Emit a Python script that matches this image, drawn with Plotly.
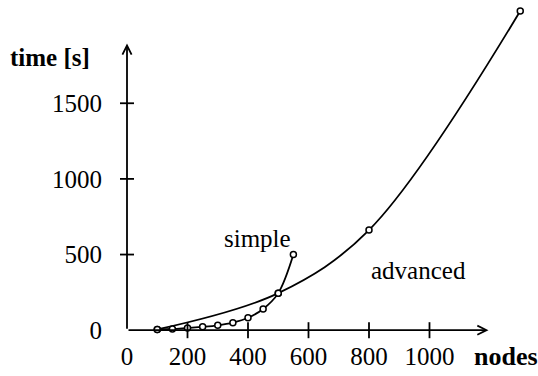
import plotly.graph_objects as go

# ---- data ----
simple_nodes = [100, 150, 200, 250, 300, 350, 400, 450, 500, 550]
simple_time = [5, 8, 15, 22, 32, 50, 82, 140, 245, 500]
advanced_nodes = [100, 500, 800, 1300]
advanced_time = [5, 245, 662, 2110]

x_tickvals = [0, 200, 400, 600, 800, 1000]
x_ticktext = ["0", "200", "400", "600", "800", "1000"]
x_tickmarks = [200, 400, 600, 800, 1000]
y_tickvals = [0, 500, 1000, 1500]
y_ticktext = ["0", "500", "1000", "1500"]
y_tickmarks = [500, 1000, 1500]

x_axis_end = 1195
y_axis_end = 1895

# ---- layout geometry ----
W, H = 538, 376
X0PX, KX = 127.0, 0.3025     # pixel of x=0, px per unit
Y0PX, KY = 330.2, 0.1513     # pixel of y=0, px per unit
xr = [-X0PX / KX, (W - X0PX) / KX]
yr = [-(H - Y0PX) / KY, Y0PX / KY]

FONT = "Liberation Serif, Times New Roman, serif"
LW = 1.8

fig = go.Figure()
fig.add_trace(go.Scatter(
    x=advanced_nodes, y=advanced_time, mode="lines+markers",
    line=dict(color="black", width=LW, shape="spline", smoothing=1.0),
    marker=dict(symbol="circle", size=6, color="white", line=dict(color="black", width=1.5)),
    showlegend=False, cliponaxis=False))
fig.add_trace(go.Scatter(
    x=simple_nodes, y=simple_time, mode="lines+markers",
    line=dict(color="black", width=LW, shape="spline", smoothing=1.0),
    marker=dict(symbol="circle", size=6, color="white", line=dict(color="black", width=1.5)),
    showlegend=False, cliponaxis=False))

shapes = []
for v in x_tickmarks:
    shapes.append(dict(type="line", xref="x", yref="y", ysizemode="pixel", yanchor=0,
                       x0=v, x1=v, y0=-8, y1=8, line=dict(color="black", width=LW)))
for v in y_tickmarks:
    shapes.append(dict(type="line", xref="x", yref="y", xsizemode="pixel", xanchor=0,
                       x0=-7, x1=7, y0=v, y1=v, line=dict(color="black", width=LW)))

annotations = [
    dict(x=x_axis_end, y=0, ax=0, ay=0, xref="x", yref="y", axref="x", ayref="y",
         showarrow=True, arrowhead=5, arrowsize=1, arrowwidth=LW, arrowcolor="black",
         standoff=0, startstandoff=0, text=""),
    dict(x=0, y=y_axis_end, ax=0, ay=0, xref="x", yref="y", axref="x", ayref="y",
         showarrow=True, arrowhead=5, arrowsize=1, arrowwidth=LW, arrowcolor="black",
         standoff=0, startstandoff=0, text=""),
    dict(x=222 / W, y=1 - 238 / H, xref="paper", yref="paper", xanchor="left", yanchor="middle",
         text="simple", showarrow=False, font=dict(family=FONT, size=25, color="black")),
    dict(x=369 / W, y=1 - 270 / H, xref="paper", yref="paper", xanchor="left", yanchor="middle",
         text="advanced", showarrow=False, font=dict(family=FONT, size=25, color="black")),
    dict(x=8 / W, y=1 - 57 / H, xref="paper", yref="paper", xanchor="left", yanchor="middle",
         text="<b>time [s]</b>", showarrow=False, font=dict(family=FONT, size=25, color="black")),
    dict(x=472 / W, y=1 - 356 / H, xref="paper", yref="paper", xanchor="left", yanchor="middle",
         text="<b>nodes</b>", showarrow=False, font=dict(family=FONT, size=26, color="black")),
]

fig.update_layout(
    width=W, height=H, margin=dict(l=0, r=0, t=0, b=0),
    paper_bgcolor="white", plot_bgcolor="white",
    xaxis=dict(range=xr, domain=[0, 1], anchor="free", position=(H - Y0PX) / H,
               showline=False, showgrid=False, zeroline=False, ticks="",
               tickvals=x_tickvals, ticktext=x_ticktext, ticklabelstandoff=9,
               tickfont=dict(family=FONT, size=25, color="black"), fixedrange=True),
    yaxis=dict(range=yr, domain=[0, 1], anchor="free", position=X0PX / W,
               showline=False, showgrid=False, zeroline=False, ticks="",
               tickvals=y_tickvals, ticktext=y_ticktext, ticklabelstandoff=25,
               tickfont=dict(family=FONT, size=25, color="black"), fixedrange=True),
    shapes=shapes, annotations=annotations,
)

fig.write_html("out.html")
